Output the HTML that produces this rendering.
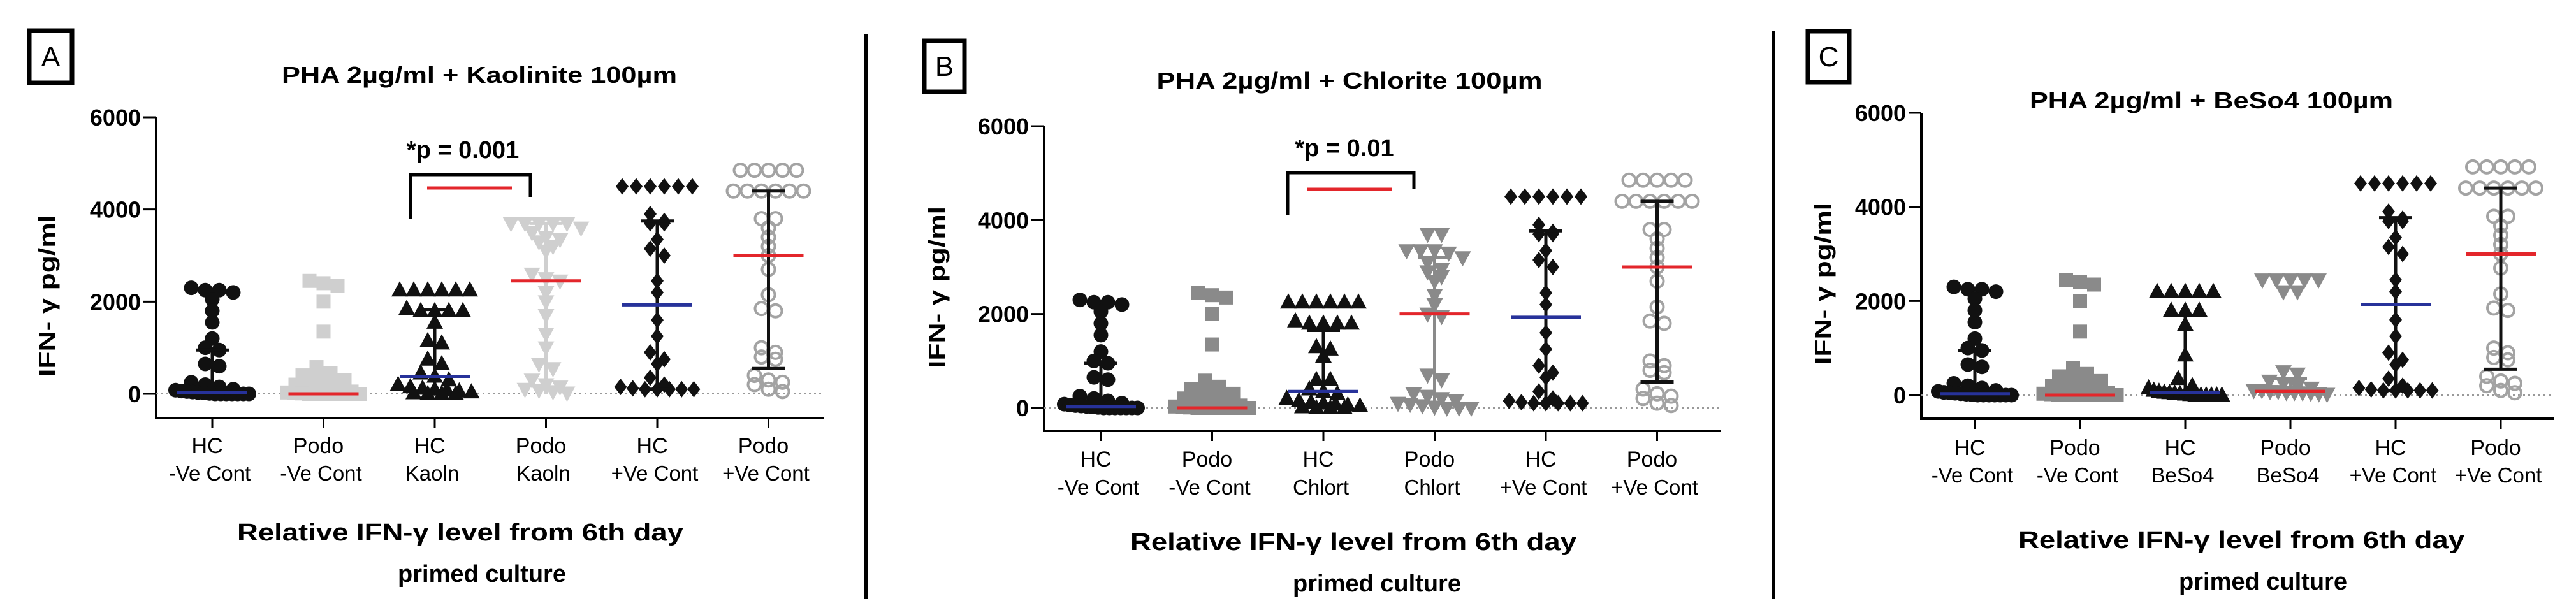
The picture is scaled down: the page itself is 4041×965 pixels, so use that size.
<!DOCTYPE html>
<html><head><meta charset="utf-8"><style>
html,body{margin:0;padding:0;background:#fff;}
svg{display:block;font-family:"Liberation Sans",sans-serif;}
</style></head><body>
<svg id="fig" width="4041" height="965" viewBox="0 0 4041 965" xmlns="http://www.w3.org/2000/svg"></svg>
<script>
// ---- data (values in pg/ml) ----
const categoriesA = [["HC","-Ve Cont"],["Podo","-Ve Cont"],["HC","Kaoln"],["Podo","Kaoln"],["HC","+Ve Cont"],["Podo","+Ve Cont"]];
const categoriesB = [["HC","-Ve Cont"],["Podo","-Ve Cont"],["HC","Chlort"],["Podo","Chlort"],["HC","+Ve Cont"],["Podo","+Ve Cont"]];
const categoriesC = [["HC","-Ve Cont"],["Podo","-Ve Cont"],["HC","BeSo4"],["Podo","BeSo4"],["HC","+Ve Cont"],["Podo","+Ve  Cont"]];
const yTicks = [0,2000,4000,6000];

const A_hcNeg = [2300,2250,2200,2250,2050,1800,1550,1200,950,1000,650,600,250,200,150,100,80,60,50,40,30,20,10,0,0,0,0,0,0,0];
const A_podoNeg = [2450,2400,2350,2000,1350,580,450,400,380,350,300,200,150,100,80,50,30,20,10,0,0,0,0,0,0,0,0];
const A_hcMin = [2250,2250,2250,2250,2250,2250,1850,1800,1800,1800,1800,1550,1150,1100,750,650,450,380,300,200,150,120,100,80,60,40,20,0,0,0];
const A_podoMin = [3700,3700,3700,3700,3700,3600,3500,3400,3350,3300,3200,3100,2600,2500,2450,2200,2000,1700,1300,1000,650,550,300,200,150,100,80,50,20];
const A_hcPos = [4500,4500,4500,4500,4500,4500,3900,3750,3700,3700,3350,3150,3000,2450,2200,1600,1250,900,750,650,350,200,150,120,100,100,100,100,100];
const A_podoPos = [4850,4850,4850,4850,4850,4400,4400,4400,4400,4400,4400,3800,3800,3600,3400,3200,3000,2700,2150,1850,1800,1000,900,800,750,400,300,250,200,100,50];
const A_median = [30,0,380,2450,1930,3000];
const A_errLo = [0,0,0,0,100,550];
const A_errHi = [950,250,1830,3700,3750,4400];

const B_hcNeg = [2300,2250,2200,2250,2050,1800,1550,1200,950,1000,650,600,250,200,150,100,80,60,50,40,30,20,10,0,0,0,0,0,0,0];
const B_podoNeg = [2450,2400,2350,2000,1350,580,450,400,380,350,300,200,150,100,80,50,30,20,10,0,0,0,0,0,0,0,0];
const B_hcMin = [2250,2250,2250,2250,2250,2250,1850,1800,1800,1800,1800,1300,1250,1100,600,600,400,350,300,200,150,120,100,80,60,40,20,0,0,0];
const B_podoMin = [3700,3700,3350,3350,3350,3300,3200,3100,2950,2900,2800,2700,2400,2200,2000,1950,700,600,300,250,200,150,100,80,50,20,0,0,0];
const B_hcPos = [4500,4500,4500,4500,4500,4500,3900,3750,3700,3700,3350,3150,3000,2450,2200,1600,1250,900,750,650,350,200,150,120,100,100,100,100,100];
const B_podoPos = [4850,4850,4850,4850,4850,4400,4400,4400,4400,4400,4400,3800,3800,3600,3400,3200,3000,2700,2150,1850,1800,1000,900,800,750,400,300,250,200,100,50];
const B_median = [30,0,350,2000,1930,3000];
const B_errLo = [0,0,0,0,100,550];
const B_errHi = [950,200,1650,3200,3770,4400];

const C_hcNeg = [2300,2250,2200,2250,2050,1800,1550,1200,950,1000,650,600,250,200,150,100,80,60,50,40,30,20,10,0,0,0,0,0,0,0];
const C_podoNeg = [2450,2400,2350,2000,1350,580,450,400,380,350,300,200,150,100,80,50,30,20,10,0,0,0,0,0,0,0,0];
const C_hcMin = [2200,2200,2200,2200,2200,1800,1800,1800,1500,850,350,200,150,100,80,60,50,40,30,20,10,0,0,0,0,0,0];
const C_podoMin = [2450,2450,2450,2450,2450,2200,2200,500,450,300,250,200,150,100,100,80,80,60,60,50,40,30,20];
const C_hcPos = [4500,4500,4500,4500,4500,4500,3900,3750,3700,3700,3350,3150,3000,2450,2200,1600,1250,900,750,650,350,200,150,120,100,100,100,100,100];
const C_podoPos = [4850,4850,4850,4850,4850,4400,4400,4400,4400,4400,4400,3800,3800,3600,3400,3200,3000,2700,2150,1850,1800,1000,900,800,750,400,300,250,200,100,50];
const C_median = [30,0,50,80,1930,3000];
const C_errLo = [0,0,0,0,100,550];
const C_errHi = [950,250,1700,350,3770,4400];

const NS = "http://www.w3.org/2000/svg";
const svg = document.getElementById("fig");
function mk(tag, attrs, parent, text){
  const e = document.createElementNS(NS, tag);
  for (const k in attrs) e.setAttribute(k, attrs[k]);
  if (text !== undefined) e.textContent = text;
  (parent || svg).appendChild(e);
  return e;
}

const BLUE = "#27329a", RED = "#e3262b";
const LIGHT = "#cfcfcf", MID = "#8a8a8a", OPEN = "#a3a3a3", BLK = "#111";

const panels = [
  {id:"a", letter:"A", box:[43,45,73,88], title:"PHA 2µg/ml + Kaolinite 100µm", titleX:752, titleY:130, titleW:620,
   axX:245, axEnd:1293, y0:618, y6:184, axB:656, x0:333, dx:174.5, cats:categoriesA,
   groups:[A_hcNeg,A_podoNeg,A_hcMin,A_podoMin,A_hcPos,A_podoPos], median:A_median, lo:A_errLo, hi:A_errHi,
   col2:LIGHT, lab1:699, lab2:742, xt1:[722,835,700], xt2:[756,900], yt:[73,464],
   sig:{x1:644,x2:832,top:274,l:343,r:309,red:[670,803,295],txt:"*p = 0.001",tx:726,ty:248}},
  {id:"b", letter:"B", box:[1447,61,69,86], title:"PHA 2µg/ml + Chlorite 100µm", titleX:2117, titleY:139, titleW:605,
   axX:1638, axEnd:2700, y0:640, y6:198, axB:676, x0:1727, dx:174.5, cats:categoriesB,
   groups:[B_hcNeg,B_podoNeg,B_hcMin,B_podoMin,B_hcPos,B_podoPos], median:B_median, lo:B_errLo, hi:B_errHi,
   col2:MID, lab1:720, lab2:764, xt1:[2123,850,700], xt2:[2160,915], yt:[1469,451],
   sig:{x1:2020,x2:2218,top:271,l:337,r:297,red:[2050,2184,297],txt:"*p = 0.01",tx:2109,ty:245}},
  {id:"c", letter:"C", box:[2833,46,71,86], title:"PHA 2µg/ml + BeSo4 100µm", titleX:3469, titleY:170, titleW:570,
   axX:3014, axEnd:4006, y0:620, y6:177, axB:657, x0:3098, dx:165, cats:categoriesC,
   groups:[C_hcNeg,C_podoNeg,C_hcMin,C_podoMin,C_hcPos,C_podoPos], median:C_median, lo:C_errLo, hi:C_errHi,
   col2:MID, lab1:702, lab2:745, xt1:[3516,847,700], xt2:[3550,912], yt:[2859,445], sig:null}
];

// separators
[[1359,54,940],[2782,49,940]].forEach((s,i)=>{
  const l = mk("line",{x1:s[0],y1:s[1],x2:s[0],y2:s[2],stroke:"#000","stroke-width":6});
  
  
});

function marker(g, kind, cx, cy, color){
  let e;
  if (kind==="circle") e = mk("circle",{cx:cx,cy:cy,r:11.5,fill:color},g);
  else if (kind==="square") e = mk("rect",{x:cx-11,y:cy-11,width:22,height:22,fill:color},g);
  else if (kind==="tri") e = mk("polygon",{points:`${cx},${cy-14} ${cx-13},${cy+10} ${cx+13},${cy+10}`,fill:color},g);
  else if (kind==="dtri") e = mk("polygon",{points:`${cx},${cy+14} ${cx-13},${cy-10} ${cx+13},${cy-10}`,fill:color},g);
  else if (kind==="diamond") e = mk("polygon",{points:`${cx},${cy-13} ${cx+10},${cy} ${cx},${cy+13} ${cx-10},${cy}`,fill:color},g);
  else e = mk("circle",{cx:cx,cy:cy,r:10,fill:"none",stroke:color,"stroke-width":4},g);
  return e;
}

function swarm(vals, yfn, maxW){
  const idx = vals.map((v,i)=>i).sort((a,b)=>vals[b]-vals[a]);
  const out = new Array(vals.length);
  let i = 0;
  while (i < idx.length){
    const startY = yfn(vals[idx[i]]);
    let j = i;
    while (j < idx.length && Math.abs(yfn(vals[idx[j]]) - startY) < 12) j++;
    const n = j - i;
    const step = n > 1 ? Math.min(22, maxW/(n-1)) : 0;
    for (let k=0;k<n;k++) out[idx[i+k]] = (k-(n-1)/2)*step;
    i = j;
  }
  return out;
}

panels.forEach(p=>{
  const G = mk("g",{});
  
  
  const y = v => p.y0 - v*(p.y0-p.y6)/6000;
  const x = i => p.x0 + i*p.dx;

  const box = mk("rect",{x:p.box[0]+3,y:p.box[1]+3,width:p.box[2]-6,height:p.box[3]-6,fill:"none",stroke:"#000","stroke-width":7},G);
  
  
  const lt = mk("text",{x:p.box[0]+p.box[2]/2,y:p.box[1]+p.box[3]/2+15,"text-anchor":"middle","font-size":44},G,p.letter);
  
  

  const t = mk("text",{x:p.titleX,y:p.titleY,"text-anchor":"middle","font-size":36,"font-weight":"bold",textLength:p.titleW,lengthAdjust:"spacingAndGlyphs"},G,p.title);
  
  

  const ya = mk("line",{x1:p.axX,y1:p.y6,x2:p.axX,y2:p.axB+2,stroke:"#000","stroke-width":4},G);
  
  
  const xa = mk("line",{x1:p.axX,y1:p.axB,x2:p.axEnd,y2:p.axB,stroke:"#000","stroke-width":4},G);
  
  
  const zl = mk("line",{x1:p.axX,y1:y(0),x2:p.axEnd,y2:y(0),stroke:"#999","stroke-width":2,"stroke-dasharray":"3,5"},G);
  
  

  yTicks.forEach(v=>{
    const tk = mk("line",{x1:p.axX-20,y1:y(v),x2:p.axX,y2:y(v),stroke:"#000","stroke-width":3},G);
    
    
    const tl = mk("text",{x:p.axX-24,y:y(v)+13,"text-anchor":"end","font-size":36,"font-weight":"bold"},G,String(v));
    
    
  });
  const yt = mk("text",{x:0,y:0,"text-anchor":"middle","font-size":36,"font-weight":"bold",textLength:254,lengthAdjust:"spacingAndGlyphs",transform:`translate(${p.yt[0]+13},${p.yt[1]}) rotate(-90)`},G,"IFN- γ  pg/ml");
  
  

  const kinds = ["circle","square","tri","dtri","diamond","open"];
  const colors = [BLK,p.col2,BLK,p.col2,BLK,OPEN];
  const medCols = [BLUE,RED,BLUE,RED,BLUE,RED];
  p.cats.forEach((c,i)=>{
    const tk = mk("line",{x1:x(i),y1:p.axB,x2:x(i),y2:p.axB+16,stroke:"#000","stroke-width":3},G);
    
    
    const l1 = mk("text",{x:x(i)-8,y:p.lab1+12,"text-anchor":"middle","font-size":34},G,c[0]);
    
    
    const l2 = mk("text",{x:x(i)-4,y:p.lab2+12,"text-anchor":"middle","font-size":33},G,c[1]);
    
    

    const gg = mk("g",{},G);
    
    
    const vals = p.groups[i];
    const offs = swarm(vals, y, 115);
    vals.forEach((v,k)=>{
      const m = marker(gg, kinds[i], x(i)+offs[k], y(v), colors[i]);
      
      
    });
    const ebCol = (i===1||i===3) ? p.col2 : BLK;
    const eb = mk("line",{x1:x(i),y1:y(p.lo[i]),x2:x(i),y2:y(p.hi[i]),stroke:ebCol,"stroke-width":5},G);
    
    
    const c1 = mk("line",{x1:x(i)-26,y1:y(p.hi[i]),x2:x(i)+26,y2:y(p.hi[i]),stroke:ebCol,"stroke-width":5},G);
    
    
    if (p.lo[i] > 0){
      const c2 = mk("line",{x1:x(i)-26,y1:y(p.lo[i]),x2:x(i)+26,y2:y(p.lo[i]),stroke:ebCol,"stroke-width":5},G);
      
      
    }
    const md = mk("line",{x1:x(i)-55,y1:y(p.median[i]),x2:x(i)+55,y2:y(p.median[i]),stroke:medCols[i],"stroke-width":5},G);
    
    
  });

  const t1 = mk("text",{x:p.xt1[0],y:p.xt1[1]+13,"text-anchor":"middle","font-size":38,"font-weight":"bold",textLength:p.xt1[2],lengthAdjust:"spacingAndGlyphs"},G,"Relative IFN-γ level from 6th day");
  
  
  const t2 = mk("text",{x:p.xt2[0],y:p.xt2[1]+13,"text-anchor":"middle","font-size":38,"font-weight":"bold"},G,"primed culture");
  
  

  if (p.sig){
    const s = p.sig;
    const br = mk("polyline",{points:`${s.x1},${s.l} ${s.x1},${s.top} ${s.x2},${s.top} ${s.x2},${s.r}`,fill:"none",stroke:"#000","stroke-width":5},G);
    
    
    const rl = mk("line",{x1:s.red[0],y1:s.red[2],x2:s.red[1],y2:s.red[2],stroke:RED,"stroke-width":5},G);
    
    
    const st = mk("text",{x:s.tx,y:s.ty,"text-anchor":"middle","font-size":38,"font-weight":"bold"},G,s.txt);
    
    
  }
});
</script>
</body></html>
